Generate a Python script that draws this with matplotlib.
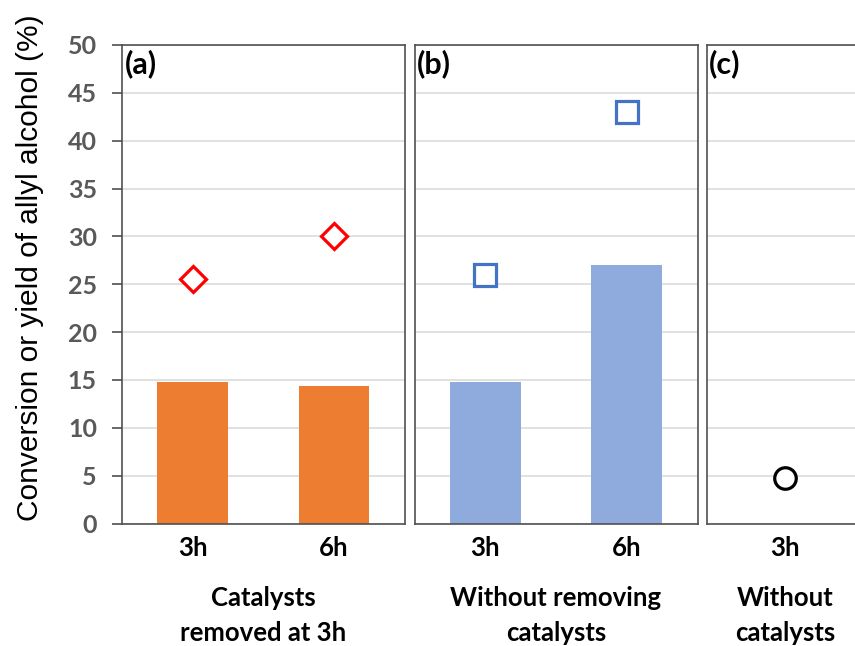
import matplotlib
matplotlib.use("Agg")
import matplotlib.pyplot as plt

# Data
hours_ab = ["3h", "6h"]
hours_c = ["3h"]
removed_yield = [14.8, 14.4]        # bars, catalysts removed at 3h
removed_conversion = [25.5, 30.0]   # diamonds
kept_yield = [14.8, 27.0]           # bars, catalysts kept in
kept_conversion = [26.0, 43.0]      # squares
blank_conversion = [4.8]            # circle, no catalysts
y_ticks = [0, 5, 10, 15, 20, 25, 30, 35, 40, 45, 50]
group_titles = ["Catalysts\nremoved at 3h", "Without removing\ncatalysts", "Without\ncatalysts"]
panel_tags = ["(a)", "(b)", "(c)"]

W, H = 855, 646
fig = plt.figure(figsize=(W / 100, H / 100), dpi=100)

def frac_box(x0, x1, y_top, y_bot):
    return [x0 / W, (H - y_bot) / H, (x1 - x0) / W, (y_bot - y_top) / H]

top_px, bot_px = 45, 523.5
ax_a = fig.add_axes(frac_box(122, 404.5, top_px, bot_px))
ax_b = fig.add_axes(frac_box(414.5, 697.5, top_px, bot_px))
ax_c = fig.add_axes(frac_box(706.5, 864, top_px, bot_px))

label_font = "Lato"
spine_col = "#505050"
grid_col = "#D9D9D9"
cat_size = 18.5

for ax in (ax_a, ax_b, ax_c):
    ax.set_ylim(0, 50)
    ax.set_yticks(y_ticks)
    ax.grid(axis="y", color=grid_col, linewidth=1.1, zorder=0)
    ax.set_axisbelow(True)
    for s in ax.spines.values():
        s.set_color(spine_col)
        s.set_linewidth(1.2)
    ax.tick_params(axis="x", length=0, pad=9)
    ax.tick_params(axis="y", length=0)
    ax.set_yticklabels([])

# Panel (a)
xa = range(len(hours_ab))
ax_a.bar(xa, removed_yield, width=0.5, color="#ED7D31", zorder=2)
ax_a.plot(xa, removed_conversion, linestyle="none", marker="D", markersize=13,
          markerfacecolor="white", markeredgecolor="#FF0000", markeredgewidth=2.3, zorder=3)
ax_a.set_xlim(-0.5, 1.5)

# Panel (b)
ax_b.bar(xa, kept_yield, width=0.5, color="#8FAADC", zorder=2)
ax_b.plot(xa, kept_conversion, linestyle="none", marker="s", markersize=15.5,
          markerfacecolor="white", markeredgecolor="#4472C4", markeredgewidth=2.3, zorder=3)
ax_b.set_xlim(-0.5, 1.5)

# Panel (c)
xc = range(len(hours_c))
ax_c.plot(xc, blank_conversion, linestyle="none", marker="o", markersize=15.5,
          markerfacecolor="white", markeredgecolor="black", markeredgewidth=2.3, zorder=3)
ax_c.set_xlim(-0.5, 0.5)

for ax, cats in ((ax_a, hours_ab), (ax_b, hours_ab), (ax_c, hours_c)):
    ax.set_xticks(range(len(cats)))
    ax.set_xticklabels(cats, fontfamily=label_font, fontweight="bold", fontsize=cat_size, color="black")

# y axis on the first panel only
ax_a.tick_params(axis="y", length=7, width=1.2, color=spine_col, pad=11)
ax_a.set_yticklabels([str(v) for v in y_ticks], fontfamily=label_font, fontweight="bold",
                     fontsize=18, color="#595959")
ax_a.set_ylabel("Conversion or yield of allyl alcohol (%)", fontfamily="Liberation Sans",
                fontsize=21.5, color="black")
ax_a.yaxis.set_label_coords((44 - 122) / (404.5 - 122), 0.535)

# Panel tags and group captions
for ax, tag, title, xc_cat in ((ax_a, panel_tags[0], group_titles[0], 0.5),
                                (ax_b, panel_tags[1], group_titles[1], 0.5),
                                (ax_c, panel_tags[2], group_titles[2], 0.0)):
    ax.annotate(tag, xy=(0, 1), xycoords="axes fraction", xytext=(2, -3),
                textcoords="offset points", ha="left", va="top",
                fontfamily=label_font, fontweight="bold", fontsize=22, color="black")
    ax.annotate(title, xy=(xc_cat, 0), xycoords=("data", "axes fraction"),
                xytext=(0, -45), textcoords="offset points", ha="center", va="top",
                fontfamily=label_font, fontweight="bold", fontsize=cat_size, color="black",
                linespacing=1.55)

fig.savefig("out.png", dpi=100)
